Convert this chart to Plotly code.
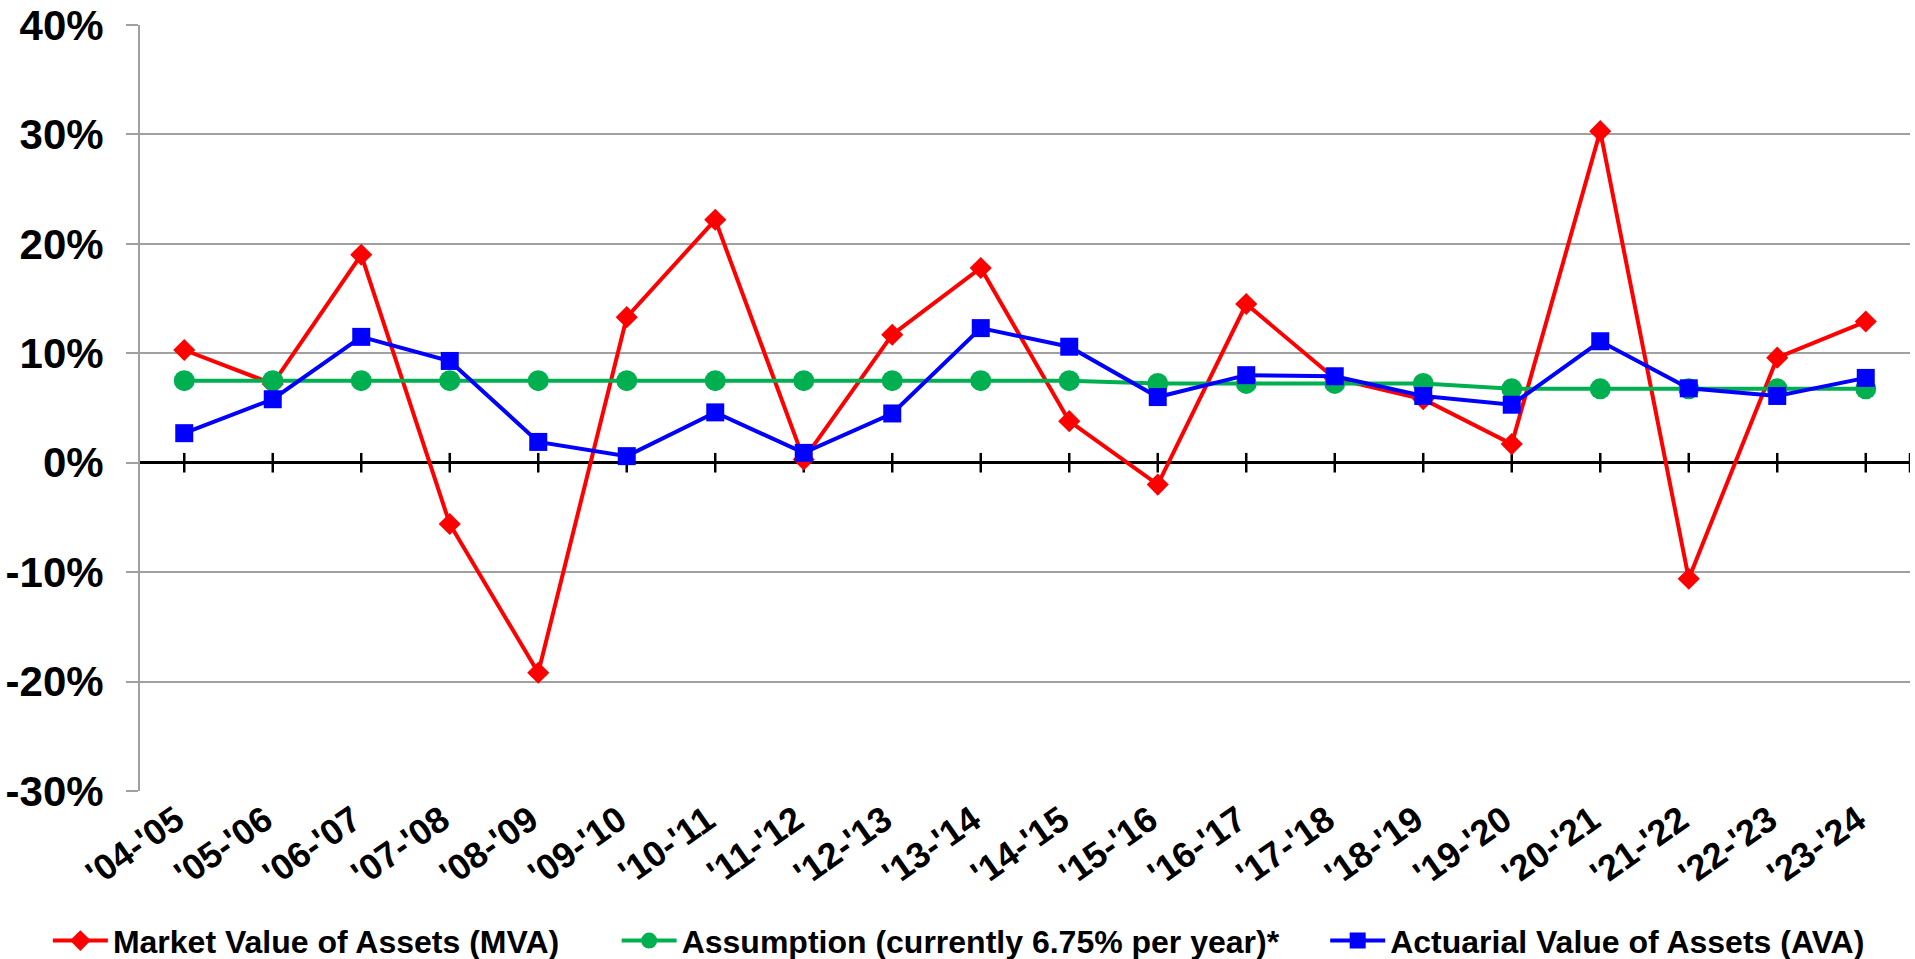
import plotly.graph_objects as go

# Fiscal-year periods and annual returns (%)
periods = ["'04-'05", "'05-'06", "'06-'07", "'07-'08", "'08-'09", "'09-'10", "'10-'11",
           "'11-'12", "'12-'13", "'13-'14", "'14-'15", "'15-'16", "'16-'17", "'17-'18",
           "'18-'19", "'19-'20", "'20-'21", "'21-'22", "'22-'23", "'23-'24"]
mva = [10.3, 7.2, 19.0, -5.6, -19.2, 13.3, 22.2, 0.3, 11.7, 17.8,
       3.8, -2.0, 14.5, 7.7, 5.8, 1.7, 30.3, -10.6, 9.6, 12.9]
assumption = [7.5, 7.5, 7.5, 7.5, 7.5, 7.5, 7.5, 7.5, 7.5, 7.5,
              7.5, 7.25, 7.25, 7.25, 7.25, 6.75, 6.75, 6.75, 6.75, 6.75]
ava = [2.7, 5.8, 11.5, 9.3, 1.9, 0.6, 4.6, 0.9, 4.5, 12.3,
       10.6, 6.0, 8.0, 7.9, 6.1, 5.3, 11.1, 6.8, 6.1, 7.75]
y_ticks = [-30, -20, -10, 0, 10, 20, 30, 40]

series_names = ["Market Value of Assets (MVA)",
                "Assumption (currently 6.75% per year)*",
                "Actuarial Value of Assets (AVA)"]

FONT = "Liberation Sans, Arial, sans-serif"
RED, GREEN, BLUE = "#FF0000", "#00B050", "#0000FF"
GRID = "#A0A0A0"

idx = list(range(len(periods)))
zero_ticks = idx + [len(periods) - 0.5]

fig = go.Figure()

# category tick marks crossing the 0% baseline
fig.add_trace(go.Scatter(
    x=zero_ticks, y=[0] * len(zero_ticks), mode="markers",
    marker=dict(symbol="line-ns", size=14, line=dict(color="black", width=2.5)),
    showlegend=False, hoverinfo="skip"))

fig.add_trace(go.Scatter(
    x=idx, y=mva, mode="lines+markers", name=series_names[0],
    line=dict(color=RED, width=4),
    marker=dict(symbol="diamond", size=17, color=RED),
    legend="legend"))
fig.add_trace(go.Scatter(
    x=idx, y=assumption, mode="lines+markers", name=series_names[1],
    line=dict(color=GREEN, width=4),
    marker=dict(symbol="circle", size=21, color=GREEN),
    legend="legend2"))
fig.add_trace(go.Scatter(
    x=idx, y=ava, mode="lines+markers", name=series_names[2],
    line=dict(color=BLUE, width=4),
    marker=dict(symbol="square", size=18, color=BLUE),
    legend="legend3"))

legend_common = dict(
    orientation="h", xref="container", yref="container",
    yanchor="middle", y=0.019, xanchor="left",
    bgcolor="rgba(0,0,0,0)", itemwidth=55,
    font=dict(family=FONT, size=32, color="black", weight="bold"))

fig.update_layout(
    width=1915, height=959,
    margin=dict(l=140, r=5, t=25, b=168),
    paper_bgcolor="white", plot_bgcolor="white",
    font=dict(family=FONT, color="black"),
    legend=dict(x=0.025, **legend_common),
    legend2=dict(x=0.322, **legend_common),
    legend3=dict(x=0.692, **legend_common),
    xaxis=dict(
        range=[-0.5, len(periods) - 0.5], tickmode="array",
        tickvals=idx, ticktext=periods, tickangle=-35,
        tickfont=dict(family=FONT, size=36, weight="bold"),
        showgrid=False, zeroline=False, showline=False, ticks="",
        ticklabelstandoff=0, ticklabelshift=-8, automargin=False),
    yaxis=dict(
        range=[-30, 40], tickmode="array", tickvals=y_ticks,
        ticktext=[f"{v}%" for v in y_ticks],
        tickfont=dict(family=FONT, size=42, weight="bold"),
        showgrid=True, gridcolor=GRID, gridwidth=2,
        showline=True, linecolor=GRID, linewidth=2,
        ticks="outside", ticklen=12, tickcolor=GRID, tickwidth=2,
        ticklabelstandoff=14,
        zeroline=True, zerolinecolor="black", zerolinewidth=3,
        automargin=False),
)

fig.write_html("out.html")
